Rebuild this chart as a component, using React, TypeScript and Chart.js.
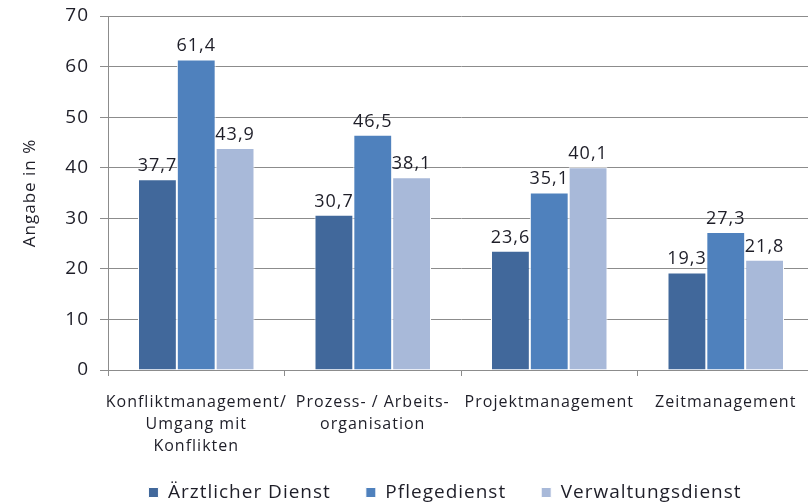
import React, { useEffect, useRef } from "react";
import { Chart, registerables } from "chart.js";

Chart.register(...registerables);

const categories: string[][] = [
  ["Konfliktmanagement/", "Umgang mit", "Konflikten"],
  ["Prozess- / Arbeits-", "organisation"],
  ["Projektmanagement"],
  ["Zeitmanagement"],
];
const seriesNames = ["Ärztlicher Dienst", "Pflegedienst", "Verwaltungsdienst"];
const aerztlich = [37.7, 30.7, 23.6, 19.3];
const pflege = [61.4, 46.5, 35.1, 27.3];
const verwaltung = [43.9, 38.1, 40.1, 21.8];
const colors = ["#41689B", "#4F81BD", "#A8B9D9"];
const yTitle = "Angabe in %";

const FONT = "'Open Sans', sans-serif";
const TEXT = "#1e1e28";

const spacing = {
  id: "spacing",
  beforeLayout(chart: any) {
    chart.ctx.letterSpacing = "1px";
  },
  beforeDraw(chart: any) {
    chart.ctx.letterSpacing = "1px";
  },
};

const valueLabels = {
  id: "valueLabels",
  afterDatasetsDraw(chart: any) {
    const ctx = chart.ctx;
    ctx.save();
    ctx.letterSpacing = "1px";
    ctx.font = `18px ${FONT}`;
    ctx.fillStyle = TEXT;
    ctx.textAlign = "center";
    ctx.textBaseline = "alphabetic";
    chart.data.datasets.forEach((ds: any, i: number) => {
      const meta = chart.getDatasetMeta(i);
      meta.data.forEach((el: any, j: number) => {
        const v = ds.data[j] as number;
        ctx.fillText(v.toFixed(1).replace(".", ","), el.x, el.y - 8);
      });
    });
    ctx.restore();
  },
};

export default function App() {
  const ref = useRef<HTMLCanvasElement>(null);
  useEffect(() => {
    if (!ref.current) return;
    const data = [aerztlich, pflege, verwaltung];
    const chart = new Chart(ref.current, {
      type: "bar",
      data: {
        labels: categories,
        datasets: seriesNames.map((name, i) => ({
          label: name,
          data: data[i],
          backgroundColor: colors[i],
          borderColor: "#ffffff",
          borderWidth: 1,
          categoryPercentage: 0.66,
          barPercentage: 1,
          yAxisID: "y",
        })),
      },
      options: {
        responsive: false,
        animation: false,
        layout: { padding: { top: 16, left: 0, right: 0, bottom: -8 } },
        plugins: {
          legend: {
            position: "bottom",
            labels: {
              boxWidth: 10,
              boxHeight: 10,
              padding: 35,
              color: TEXT,
              font: { family: FONT, size: 19 },
            },
          },
          tooltip: { enabled: false },
        },
        scales: {
          x: {
            grid: {
              offset: true,
              drawOnChartArea: false,
              drawTicks: true,
              tickLength: 6,
              color: "#8c8c8c",
            },
            border: { color: "#8c8c8c" },
            ticks: {
              color: TEXT,
              font: { family: FONT, size: 16, lineHeight: 1.35 },
              padding: 16,
              maxRotation: 0,
              autoSkip: false,
            },
            afterFit: (s: any) => {
              s.height = 78;
              s._computeLabelArea = () => undefined;
            },
          },
          y: {
            min: 0,
            max: 70,
            ticks: {
              stepSize: 10,
              color: TEXT,
              font: { family: FONT, size: 19 },
              padding: 11,
            },
            grid: { color: "#8c8c8c", tickLength: 8 },
            border: { color: "#8c8c8c" },
            title: {
              display: true,
              text: yTitle,
              color: TEXT,
              font: { family: FONT, size: 17 },
              padding: { top: 20, bottom: 0 },
            },
            afterFit: (s: any) => {
              s.width = 108;
              s.paddingTop = 0;
              s.paddingBottom = 0;
            },
          },
          y2: {
            position: "right",
            min: 0,
            max: 70,
            grid: { display: false },
            border: { display: false },
            ticks: { display: false },
            afterFit: (s: any) => {
              s.width = 76;
              s.paddingTop = 0;
              s.paddingBottom = 0;
            },
          },
        },
      },
      plugins: [spacing, valueLabels],
    });
    return () => chart.destroy();
  }, []);
  return (
    <div
      style={{
        position: "fixed",
        left: 0,
        top: 0,
        width: 808,
        height: 504,
        overflow: "hidden",
        background: "#fff",
      }}
    >
      <canvas ref={ref} width={890} height={504} style={{ display: "block" }} />
    </div>
  );
}
